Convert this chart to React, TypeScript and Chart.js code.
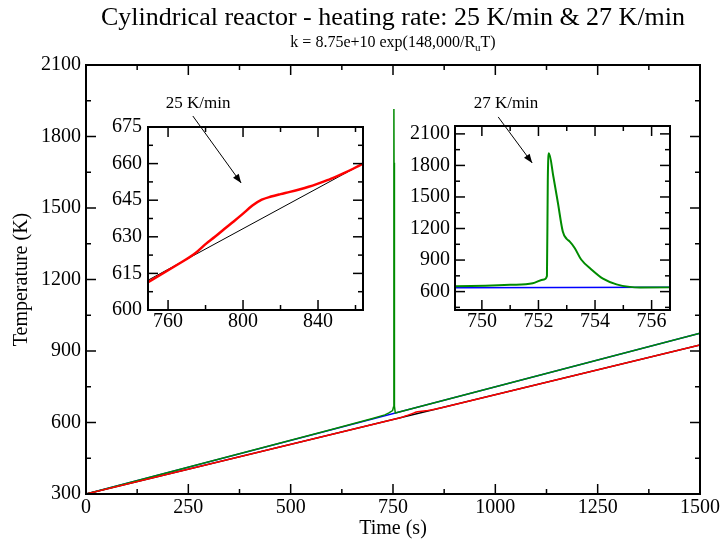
import React, { useEffect, useRef } from "react";
import { Chart, registerables } from "chart.js";

Chart.register(...registerables);

const FONT = "'Liberation Serif', 'Times New Roman', serif";

// ---------------- data ----------------
// furnace (reference) temperatures
const ref25Time = [0, 1500];
const ref25Temp = [300, 925];
const ref27Time = [0, 1500];
const ref27Temp = [300, 975];

// reactor temperature, 25 K/min
const run25Time = [0, 768, 775, 780, 785, 790, 795, 800, 805, 810, 815, 820, 825, 830, 835, 840, 845, 850, 855, 860, 864, 1500];
const run25Temp = [300, 620.0, 623.6, 627.0, 630.0, 633.2, 636.3, 639.5, 642.8, 645.2, 646.5, 647.5, 648.4, 649.4, 650.5, 651.8, 653.2, 654.8, 656.5, 658.4, 660.0, 925];

// reactor temperature, 27 K/min
const run27Time = [0, 600, 700, 730, 740, 749, 751, 751.8, 752.2, 752.3, 752.33, 752.37, 752.53, 752.69, 752.86, 753.0, 753.1, 753.28, 753.51, 753.87, 754.28, 754.76, 755.23, 755.6, 1500];
const run27Temp = [300, 571, 617, 632, 640, 650, 664, 679, 716, 748, 1660, 1915, 1690, 1440, 1172, 1100, 1078, 1015, 905, 811, 723, 669, 645, 640, 975];

// ticks
const mainXTicks = [0, 250, 500, 750, 1000, 1250, 1500];
const mainXMinor = [125, 375, 625, 875, 1125, 1375];
const mainYTicks = [300, 600, 900, 1200, 1500, 1800, 2100];
const mainYMinor = [450, 750, 1050, 1350, 1650, 1950];

const in25XTicks = [760, 800, 840];
const in25XMinor = [780, 820, 860];
const in25YTicks = [600, 615, 630, 645, 660, 675];
const in25YMinor = [607.5, 622.5, 637.5, 652.5, 667.5];

const in27XTicks = [750, 752, 754, 756];
const in27XMinor = [751, 753, 755];
const in27YTicks = [600, 900, 1200, 1500, 1800, 2100];
const in27YMinor = [450, 750, 1050, 1350, 1650, 1950];

const TITLE = "Cylindrical reactor - heating rate: 25 K/min & 27 K/min";
const SUB_A = "k = 8.75e+10 exp(148,000/R";
const SUB_B = "u";
const SUB_C = "T)";
const X_TITLE = "Time (s)";
const Y_TITLE = "Temperature (K)";

// annotations (main-chart data coordinates)
const notes = [
  { text: "25 K/min", tx: 274, ty: 1940, ax: 261, ay: 1886, bx: 379, by: 1605 },
  { text: "27 K/min", tx: 1026, ty: 1940, ax: 1007, ay: 1882, bx: 1090, by: 1689 },
];

// ---------------- helpers ----------------
const pts = (xs: number[], ys: number[]) => xs.map((x, i) => ({ x, y: ys[i] }));

const frameTicks = {
  id: "frameTicks",
  afterDatasetsDraw(chart: any, _args: any, o: any) {
    const { ctx, chartArea: a, scales } = chart;
    const xs = scales.x;
    const ys = scales.y;
    ctx.save();
    ctx.strokeStyle = "#000";
    ctx.lineWidth = 1.5;
    const seg = (x1: number, y1: number, x2: number, y2: number) => {
      ctx.beginPath();
      ctx.moveTo(x1, y1);
      ctx.lineTo(x2, y2);
      ctx.stroke();
    };
    const doX = (vals: number[], len: number) => {
      vals.forEach((v) => {
        const p = xs.getPixelForValue(v);
        seg(p, a.bottom, p, a.bottom - len);
        seg(p, a.top, p, a.top + len);
      });
    };
    const doY = (vals: number[], len: number) => {
      vals.forEach((v) => {
        const p = ys.getPixelForValue(v);
        seg(a.left, p, a.left + len, p);
        seg(a.right, p, a.right - len, p);
      });
    };
    doX(o.xMajor, o.major);
    doX(o.xMinor, o.minor);
    doY(o.yMajor, o.major);
    doY(o.yMinor, o.minor);
    ctx.lineWidth = 2;
    ctx.strokeRect(a.left, a.top, a.right - a.left, a.bottom - a.top);
    ctx.restore();
  },
};

const textPlugin = {
  id: "mainTexts",
  afterDraw(chart: any) {
    const { ctx, chartArea: a, scales } = chart;
    const cx = (a.left + a.right) / 2;
    ctx.save();
    ctx.fillStyle = "#000";
    ctx.strokeStyle = "#000";
    ctx.textBaseline = "alphabetic";
    ctx.textAlign = "center";
    ctx.font = `26px ${FONT}`;
    ctx.fillText(TITLE, cx, 25);

    ctx.textAlign = "left";
    ctx.font = `16px ${FONT}`;
    const wA = ctx.measureText(SUB_A).width;
    const wC = ctx.measureText(SUB_C).width;
    ctx.font = `11px ${FONT}`;
    const wB = ctx.measureText(SUB_B).width;
    let x = cx - (wA + wB + wC) / 2;
    ctx.font = `16px ${FONT}`;
    ctx.fillText(SUB_A, x, 47);
    x += wA;
    ctx.font = `11px ${FONT}`;
    ctx.fillText(SUB_B, x, 51);
    x += wB;
    ctx.font = `16px ${FONT}`;
    ctx.fillText(SUB_C, x, 47);

    ctx.font = `20px ${FONT}`;
    ctx.textAlign = "center";
    ctx.textBaseline = "middle";
    ctx.fillText(X_TITLE, cx, 529);
    ctx.save();
    ctx.translate(22, (a.top + a.bottom) / 2);
    ctx.rotate(-Math.PI / 2);
    ctx.fillText(Y_TITLE, 0, 0);
    ctx.restore();

    const xs = scales.x;
    const ys = scales.y;
    ctx.font = `17px ${FONT}`;
    ctx.lineWidth = 1;
    notes.forEach((n) => {
      ctx.fillText(n.text, xs.getPixelForValue(n.tx), ys.getPixelForValue(n.ty));
      const x1 = xs.getPixelForValue(n.ax);
      const y1 = ys.getPixelForValue(n.ay);
      const x2 = xs.getPixelForValue(n.bx);
      const y2 = ys.getPixelForValue(n.by);
      ctx.beginPath();
      ctx.moveTo(x1, y1);
      ctx.lineTo(x2, y2);
      ctx.stroke();
      const ang = Math.atan2(y2 - y1, x2 - x1);
      const L = 9;
      const H = 3.5;
      ctx.beginPath();
      ctx.moveTo(x2, y2);
      ctx.lineTo(x2 - L * Math.cos(ang) + H * Math.sin(ang), y2 - L * Math.sin(ang) - H * Math.cos(ang));
      ctx.lineTo(x2 - L * Math.cos(ang) - H * Math.sin(ang), y2 - L * Math.sin(ang) + H * Math.cos(ang));
      ctx.closePath();
      ctx.fill();
    });
    ctx.restore();
  },
};

interface Spec {
  datasets: any[];
  xMin: number;
  xMax: number;
  yMin: number;
  yMax: number;
  xTicks: number[];
  xMinor: number[];
  yTicks: number[];
  yMinor: number[];
  yWidth: number;
  xHeight: number;
  padding: any;
  xPad: number;
  yPad: number;
  texts?: boolean;
}

function makeConfig(s: Spec): any {
  const tickFont = { family: FONT, size: 20 };
  return {
    type: "line",
    data: { datasets: s.datasets },
    options: {
      responsive: false,
      animation: false,
      events: [],
      layout: { padding: s.padding },
      elements: { point: { radius: 0 }, line: { tension: 0 } },
      plugins: {
        legend: { display: false },
        tooltip: { enabled: false },
        title: { display: false },
        frameTicks: {
          xMajor: s.xTicks,
          xMinor: s.xMinor,
          yMajor: s.yTicks,
          yMinor: s.yMinor,
          major: 10,
          minor: 5,
        },
      },
      scales: {
        x: {
          type: "linear",
          min: s.xMin,
          max: s.xMax,
          grid: { display: false, drawTicks: false },
          border: { display: false },
          afterBuildTicks: (sc: any) => {
            sc.ticks = s.xTicks.map((v) => ({ value: v }));
          },
          afterFit: (sc: any) => {
            sc.height = s.xHeight;
          },
          ticks: {
            autoSkip: false,
            maxRotation: 0,
            padding: s.xPad,
            color: "#000",
            font: tickFont,
            callback: (v: any) => String(v),
          },
        },
        y: {
          type: "linear",
          min: s.yMin,
          max: s.yMax,
          grid: { display: false, drawTicks: false },
          border: { display: false },
          afterBuildTicks: (sc: any) => {
            sc.ticks = s.yTicks.map((v) => ({ value: v }));
          },
          afterFit: (sc: any) => {
            sc.width = s.yWidth;
          },
          ticks: {
            autoSkip: false,
            padding: s.yPad,
            color: "#000",
            font: tickFont,
            callback: (v: any) => String(v),
          },
        },
      },
    },
    plugins: s.texts ? [frameTicks, textPlugin] : [frameTicks],
  };
}

const red = (w: number, smooth: boolean) => ({
  data: pts(run25Time, run25Temp),
  borderColor: "#ff0000",
  borderWidth: w,
  cubicInterpolationMode: smooth ? "monotone" : "default",
  tension: 0,
  fill: false,
});
const green = (w: number, smooth: boolean) => ({
  data: pts(run27Time, run27Temp),
  borderColor: "#008b00",
  borderWidth: w,
  cubicInterpolationMode: smooth ? "monotone" : "default",
  tension: 0,
  fill: false,
});
const black = (w: number) => ({
  data: pts(ref25Time, ref25Temp),
  borderColor: "#000000",
  borderWidth: w,
  fill: false,
});
const blue = (w: number) => ({
  data: pts(ref27Time, ref27Temp),
  borderColor: "#0000ff",
  borderWidth: w,
  fill: false,
});

function ChartCanvas({ spec, left, top, width, height }: { spec: Spec; left: number; top: number; width: number; height: number }) {
  const ref = useRef<HTMLCanvasElement | null>(null);
  useEffect(() => {
    if (!ref.current) return;
    const chart = new Chart(ref.current, makeConfig(spec));
    return () => chart.destroy();
  }, []);
  return (
    <canvas
      ref={ref}
      width={width}
      height={height}
      style={{ position: "absolute", left, top, width, height, display: "block" }}
    />
  );
}

export default function App() {
  const mainSpec: Spec = {
    datasets: [red(1.5, false), green(1.5, false), black(1.5), blue(1.5)],
    xMin: 0,
    xMax: 1500,
    yMin: 300,
    yMax: 2100,
    xTicks: mainXTicks,
    xMinor: mainXMinor,
    yTicks: mainYTicks,
    yMinor: mainYMinor,
    yWidth: 86,
    xHeight: 51,
    padding: { left: 0, top: 65, right: 23, bottom: 0 },
    xPad: 2,
    yPad: 5,
    texts: true,
  };
  const in25Spec: Spec = {
    datasets: [red(2.5, true), black(1)],
    xMin: 749.3,
    xMax: 864,
    yMin: 600,
    yMax: 675,
    xTicks: in25XTicks,
    xMinor: in25XMinor,
    yTicks: in25YTicks,
    yMinor: in25YMinor,
    yWidth: 50,
    xHeight: 35,
    padding: { left: 0, top: 20, right: 17, bottom: 0 },
    xPad: 0,
    yPad: 6,
  };
  const in27Spec: Spec = {
    datasets: [green(2, true), blue(1.5)],
    xMin: 749.05,
    xMax: 756.65,
    yMin: 425,
    yMax: 2175,
    xTicks: in27XTicks,
    xMinor: in27XMinor,
    yTicks: in27YTicks,
    yMinor: in27YMinor,
    yWidth: 55,
    xHeight: 36,
    padding: { left: 0, top: 20, right: 20, bottom: 0 },
    xPad: 0,
    yPad: 5,
  };
  return (
    <div style={{ position: "absolute", left: 0, top: 0, width: 723, height: 545, background: "#fff" }}>
      <ChartCanvas spec={mainSpec} left={0} top={0} width={723} height={545} />
      <ChartCanvas spec={in25Spec} left={98} top={107} width={282} height={238} />
      <ChartCanvas spec={in27Spec} left={400} top={106} width={290} height={240} />
    </div>
  );
}
